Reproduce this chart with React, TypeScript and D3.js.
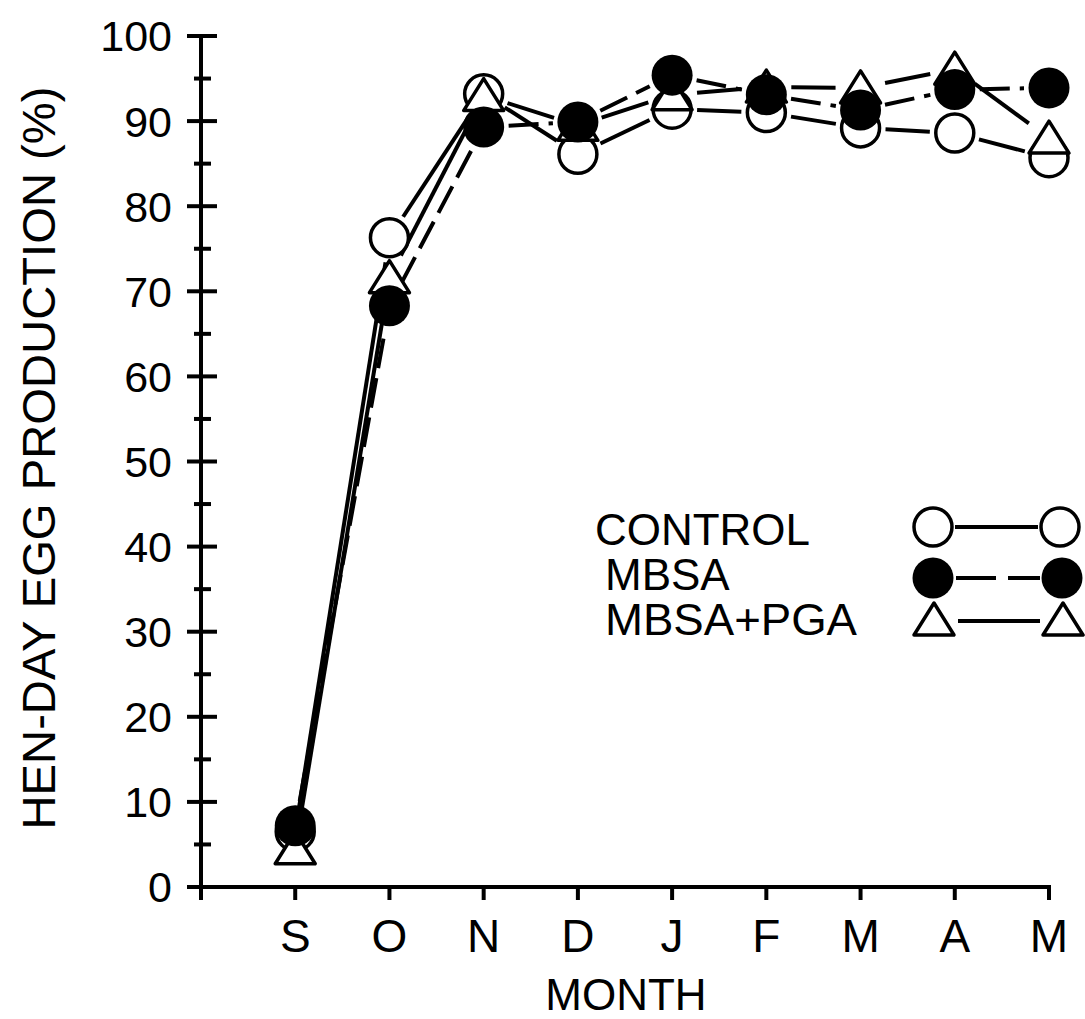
import React from "react";
import * as d3 from "d3";

const months = ["S", "O", "N", "D", "J", "F", "M", "A", "M"];
const controlValues = [6.5, 76.3, 93.2, 86.1, 91.4, 91.0, 89.2, 88.6, 85.7];
const mbsaValues = [7.2, 68.3, 89.3, 89.9, 95.4, 93.1, 91.3, 93.7, 93.9];
const mbsaPgaValues = [4.5, 71.6, 93.0, 89.5, 93.1, 94.0, 93.9, 96.1, 88.0];
const yMajorTicks = [0, 10, 20, 30, 40, 50, 60, 70, 80, 90, 100];
const yMinorTicks = [5, 15, 25, 35, 45, 55, 65, 75, 85, 95];
const legendLabels = ["CONTROL", "MBSA", "MBSA+PGA"];
const yTitle = "HEN-DAY EGG PRODUCTION (%)";
const xTitle = "MONTH";

const W = 1085;
const H = 1019;
const FONT = "'Liberation Sans', Arial, Helvetica, sans-serif";
const SW = 4;

const x = d3.scaleLinear().domain([-1, 8]).range([201, 1049]);
const y = d3.scaleLinear().domain([0, 100]).range([887, 36]);

const R = 19;
const GAP = 25;
const triPath = (cx: number, cy: number) => {
  const p = d3.path();
  p.moveTo(cx, cy - 17);
  p.lineTo(cx + 20, cy + 15);
  p.lineTo(cx - 20, cy + 15);
  p.closePath();
  return p.toString();
};

// segments between consecutive points, trimmed so they stop short of the markers
const segments = (vals: number[]) => {
  const out: { x1: number; y1: number; x2: number; y2: number }[] = [];
  for (let i = 0; i < vals.length - 1; i++) {
    const ax = x(i), ay = y(vals[i]);
    const bx = x(i + 1), by = y(vals[i + 1]);
    const dx = bx - ax, dy = by - ay;
    const len = Math.hypot(dx, dy);
    if (len <= GAP * 2) continue;
    const ux = dx / len, uy = dy / len;
    out.push({ x1: ax + ux * GAP, y1: ay + uy * GAP, x2: bx - ux * GAP, y2: by - uy * GAP });
  }
  return out;
};

export default function App() {
  const xTickVals = months.map((_, i) => i);
  return (
    <svg
      width={W}
      height={H}
      style={{ position: "absolute", left: 0, top: 0, background: "#fff" }}
      fontFamily={FONT}
    >
      <rect x={0} y={0} width={W} height={H} fill="#fff" />
      {/* y axis */}
      <line x1={x(-1)} x2={x(-1)} y1={y(100)} y2={y(0) + 13} stroke="#000" strokeWidth={SW} />
      {yMajorTicks.map((t) => (
        <g key={"ym" + t}>
          <line x1={x(-1) - 14} x2={x(-1) + 16} y1={y(t)} y2={y(t)} stroke="#000" strokeWidth={SW} />
          <text x={172} y={y(t)} dy="0.36em" textAnchor="end" fontSize={43} fill="#000">
            {t}
          </text>
        </g>
      ))}
      {yMinorTicks.map((t) => (
        <line key={"yn" + t} x1={x(-1) - 7} x2={x(-1) + 10} y1={y(t)} y2={y(t)} stroke="#000" strokeWidth={SW} />
      ))}
      {/* x axis */}
      <line x1={x(-1) - 2} x2={x(8) + 2} y1={y(0)} y2={y(0)} stroke="#000" strokeWidth={SW} />
      {xTickVals.map((i) => (
        <g key={"xt" + i}>
          <line x1={x(i)} x2={x(i)} y1={y(0)} y2={y(0) + 13} stroke="#000" strokeWidth={SW} />
          <text x={x(i)} y={952} textAnchor="middle" fontSize={46} fill="#000">
            {months[i]}
          </text>
        </g>
      ))}
      <text x={626} y={1010} textAnchor="middle" fontSize={44} fill="#000">
        {xTitle}
      </text>
      <text
        transform={`translate(55,${458}) rotate(-90)`}
        textAnchor="middle"
        fontSize={47}
        textLength={743}
        lengthAdjust="spacingAndGlyphs"
        fill="#000"
      >
        {yTitle}
      </text>

      {/* series lines */}
      {segments(controlValues).map((s, i) => (
        <line key={"cl" + i} {...s} stroke="#000" strokeWidth={SW} />
      ))}
      {segments(mbsaPgaValues).map((s, i) => (
        <line key={"tl" + i} {...s} stroke="#000" strokeWidth={SW} />
      ))}
      {segments(mbsaValues).map((s, i) => (
        <line key={"ml" + i} {...s} stroke="#000" strokeWidth={SW} strokeDasharray="30 10" />
      ))}

      {/* markers */}
      {controlValues.map((v, i) => (
        <circle key={"c" + i} cx={x(i)} cy={y(v)} r={R} fill="#fff" stroke="#000" strokeWidth={3.5} />
      ))}
      {mbsaPgaValues.map((v, i) => (
        <path key={"t" + i} d={triPath(x(i), y(v))} fill="#fff" stroke="#000" strokeWidth={3.5} strokeLinejoin="round" />
      ))}
      {mbsaValues.map((v, i) => (
        <circle key={"m" + i} cx={x(i)} cy={y(v)} r={R + 1.5} fill="#000" />
      ))}

      {/* legend */}
      <g fontSize={44} fill="#000">
        <text x={595} y={545} textLength={215} lengthAdjust="spacingAndGlyphs">{legendLabels[0]}</text>
        <text x={605} y={590}>{legendLabels[1]}</text>
        <text x={605} y={635} textLength={252} lengthAdjust="spacingAndGlyphs">{legendLabels[2]}</text>
      </g>
      <g>
        <line x1={955} x2={1038} y1={527} y2={527} stroke="#000" strokeWidth={SW} />
        <circle cx={933} cy={527} r={R} fill="#fff" stroke="#000" strokeWidth={3.5} />
        <circle cx={1060} cy={527} r={R} fill="#fff" stroke="#000" strokeWidth={3.5} />

        <line x1={956} x2={1040} y1={578} y2={578} stroke="#000" strokeWidth={SW} strokeDasharray="40 12" />
        <circle cx={933} cy={578} r={R + 1.5} fill="#000" />
        <circle cx={1062} cy={578} r={R + 1.5} fill="#000" />

        <line x1={958} x2={1040} y1={621} y2={621} stroke="#000" strokeWidth={SW} />
        <path d={triPath(934, 620)} fill="#fff" stroke="#000" strokeWidth={3.5} strokeLinejoin="round" />
        <path d={triPath(1063, 620)} fill="#fff" stroke="#000" strokeWidth={3.5} strokeLinejoin="round" />
      </g>
    </svg>
  );
}
